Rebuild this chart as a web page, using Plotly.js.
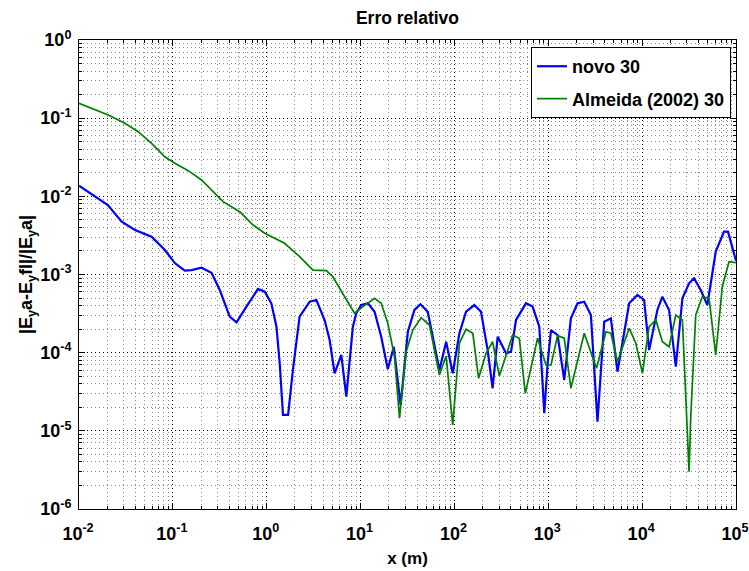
<!DOCTYPE html>
<html>
<head>
<meta charset="utf-8">
<script src="https://cdn.plot.ly/plotly-3.0.1.min.js"></script>
<style>
html,body{margin:0;padding:0;background:#fff;}
#chart{width:749px;height:571px;}
</style>
</head>
<body>
<div id="chart"></div>
<script>
// ---- data ----
const novoX = [0.01, 0.0203, 0.0285, 0.0395, 0.0593, 0.0822, 0.105, 0.134, 0.158, 0.202,
  0.258, 0.316, 0.403, 0.477, 0.608, 0.807, 0.953, 1.12, 1.27, 1.375,
  1.49, 1.69, 1.9, 2.24, 2.87, 3.38, 4.14, 4.68, 5.29, 6.23,
  7.05, 8.28, 9.0, 10.2, 12.0, 14.1, 16.6, 19.5, 22.6, 26.7,
  31.9, 37.5, 43.5, 52.0, 69.2, 81.6, 95.9, 113, 133, 163,
  192, 226, 255, 289, 355, 401, 453, 579, 681, 802,
  906, 984, 1069, 1256, 1479, 1742, 2050, 2415, 2844, 3344,
  3945, 4645, 5461, 7278, 8913, 10500, 11860, 14540, 16440, 19360,
  22840, 26850, 31620, 35730, 42100, 49500, 60800, 74500, 82200, 100000];
const novoY = [0.0137, 0.00775, 0.00474, 0.00371, 0.00305, 0.00206, 0.0014, 0.00112, 0.00114, 0.00122,
  0.00105, 0.000634, 0.000289, 0.000245, 0.000388, 0.000653, 0.000603, 0.000428, 0.000215, 7.38e-5,
  1.6e-5, 1.6e-5, 6.0e-5, 0.000289, 0.000449, 0.000472, 0.000262, 0.000145, 5.45e-5, 9.34e-5,
  2.74e-5, 0.000215, 0.000319, 0.000407, 0.000428, 0.000334, 0.00016, 6.12e-5, 0.000119, 2.14e-5,
  0.000185, 0.000352, 0.000416, 0.000334, 6.0e-5, 0.000138, 5.45e-5, 0.000177, 0.000334, 0.000407,
  0.000334, 0.000108, 3.5e-5, 0.00016, 9.8e-5, 0.000103, 0.000262, 0.000428, 0.000388, 0.000215,
  1.68e-5, 7.3e-5, 0.000195, 0.000168, 4.47e-5, 0.000275, 0.000428, 0.000449, 0.000303, 1.31e-5,
  0.000249, 0.000275, 5.71e-5, 0.000428, 0.000547, 0.000472, 0.000108, 0.000352, 0.00052, 0.000352,
  6.62e-5, 0.000496, 0.000772, 0.000895, 0.000634, 0.000407, 0.00196, 0.00353, 0.00353, 0.0015];

const almeidaX = [0.01, 0.0205, 0.0308, 0.0427, 0.0593, 0.0822, 0.105, 0.146, 0.202, 0.280,
  0.343, 0.516, 0.715, 0.953, 1.55, 2.244, 3.11, 4.32, 5.07, 6.76,
  8.63, 10.6, 13.0, 14.1, 16.6, 19.5, 23.0, 26.0, 30.6, 36.0,
  44.2, 54.2, 69.2, 81.6, 95.9, 113, 133, 157, 181, 217,
  255, 301, 417, 491, 569, 769, 946, 1069, 1256, 1479,
  1742, 2415, 3266, 4111, 4645, 5461, 7278, 8570, 10070, 11860,
  13990, 16440, 19360, 22840, 26850, 29170, 31620, 32960, 37240, 43750,
  51640, 60800, 71450, 84330, 100000];
const almeidaY = [0.155, 0.110, 0.0859, 0.0671, 0.0477, 0.0321, 0.0265, 0.0213, 0.0162, 0.0109,
  0.00854, 0.00636, 0.0043, 0.00337, 0.00251, 0.00169, 0.00114, 0.00112, 0.000937, 0.00052,
  0.000319, 0.000388, 0.000472, 0.000496, 0.000428, 0.000238, 8.88e-5, 1.45e-5, 0.000103, 0.000195,
  0.00028, 0.000226, 5.18e-5, 9.07e-5, 1.19e-5, 0.000132, 0.000199, 0.000177, 4.7e-5, 9.8e-5,
  0.000138, 5.03e-5, 0.000168, 0.000153, 3.02e-5, 0.000153, 6.95e-5, 6.95e-5, 0.000165, 0.000153,
  3.5e-5, 0.000177, 6.31e-5, 0.000185, 0.000177, 7.67e-5, 0.000205, 0.000132, 5.45e-5, 0.000215,
  0.000262, 0.000138, 0.000119, 0.000303, 0.000262, 3.02e-5, 3.0e-6, 1.52e-5, 0.000303, 0.00052,
  0.000496, 9.34e-5, 0.000698, 0.00146, 0.00142];

const seriesNames = ['novo 30', 'Almeida (2002) 30'];

const xTickVals = [1e-2, 1e-1, 1e0, 1e1, 1e2, 1e3, 1e4, 1e5];
const xTickText = ['10<sup>-2</sup>', '10<sup>-1</sup>', '10<sup>0</sup>', '10<sup>1</sup>',
  '10<sup>2</sup>', '10<sup>3</sup>', '10<sup>4</sup>', '10<sup>5</sup>'];
const yTickVals = [1e-6, 1e-5, 1e-4, 1e-3, 1e-2, 1e-1, 1e0];
const yTickText = ['10<sup>-6</sup>', '10<sup>-5</sup>', '10<sup>-4</sup>', '10<sup>-3</sup>',
  '10<sup>-2</sup>', '10<sup>-1</sup>', '10<sup>0</sup>'];

// minor grid positions (2..9 x 10^k)
function minorVals(lo, hi) {
  const out = [];
  for (let e = lo; e < hi; e++) for (let m = 2; m <= 9; m++) out.push(m * Math.pow(10, e));
  return out;
}

const FONT = 'Liberation Sans, Arial, sans-serif';

const traces = [
  {x: novoX, y: novoY, name: seriesNames[0], type: 'scatter', mode: 'lines',
   line: {color: '#0000FF', width: 2.2}, legendgroup: 'a'},
  {x: almeidaX, y: almeidaY, name: seriesNames[1], type: 'scatter', mode: 'lines',
   line: {color: '#008000', width: 1.7}, legendgroup: 'b'}
];

const axisCommon = {
  type: 'log',
  showline: true, linecolor: '#000', linewidth: 1, mirror: 'ticks',
  ticks: 'inside', ticklen: 6, tickcolor: '#000', tickwidth: 1,
  showgrid: true, gridcolor: '#000', gridwidth: 1, griddash: '1px,3px',
  zeroline: false,
  tickmode: 'array',
  ticklabeloverflow: 'allow',
  tickfont: {family: FONT, size: 18, color: '#000', weight: 'bold'}
};

const layout = {
  width: 749, height: 571,
  margin: {l: 79, r: 13, t: 40, b: 62},
  paper_bgcolor: '#fff', plot_bgcolor: '#fff',
  font: {family: FONT, color: '#000', weight: 'bold'},
  title: {text: 'Erro relativo', x: 0.5, xref: 'paper', y: 1 - 18 / 571, yref: 'container', yanchor: 'middle',
          font: {family: FONT, size: 17.5, color: '#000', weight: 'bold'}},
  xaxis: Object.assign({}, axisCommon, {
    range: [-2, 5],
    tickvals: xTickVals, ticktext: xTickText,
    ticklabelstandoff: 8,
    ticklabelshift: -1,
    minor: {tickmode: 'array', tickvals: minorVals(-2, 5), ticks: 'inside', ticklen: 3, tickcolor: '#000',
            showgrid: true, gridcolor: '#8a8a8a', gridwidth: 1, griddash: '1px,3px'},
    title: {text: 'x (m)', standoff: 9, font: {family: FONT, size: 17, color: '#000', weight: 'bold'}}
  }),
  yaxis: Object.assign({}, axisCommon, {
    range: [-6, 0],
    tickvals: yTickVals, ticktext: yTickText,
    ticklabelstandoff: 3,
    minor: {tickmode: 'array', tickvals: minorVals(-6, 0), ticks: 'inside', ticklen: 3, tickcolor: '#000',
            showgrid: true, gridcolor: '#8a8a8a', gridwidth: 1, griddash: '1px,3px'},
    title: {text: '|E<sub>y</sub>a-E<sub>y</sub>fl|/|E<sub>y</sub>a|', standoff: 2,
            font: {family: FONT, size: 18, color: '#000', weight: 'bold'}}
  }),
  showlegend: true,
  legend: {x: 0.9924, xanchor: 'right', y: 0.985, yanchor: 'top',
           bgcolor: '#fff', bordercolor: '#000', borderwidth: 1,
           traceorder: 'grouped', tracegroupgap: 6,
           font: {family: FONT, size: 18, color: '#000', weight: 'bold'}}
};

Plotly.newPlot('chart', traces, layout, {displayModeBar: false, staticPlot: true});
</script>
</body>
</html>
